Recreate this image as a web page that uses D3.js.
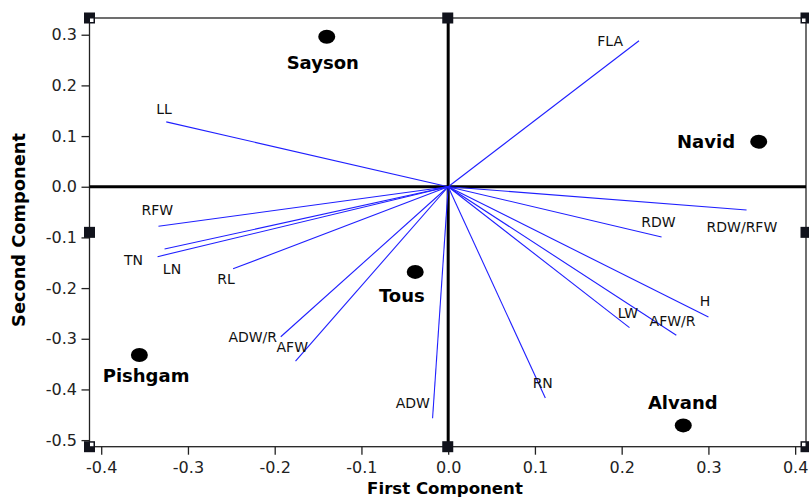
<!DOCTYPE html>
<html>
<head>
<meta charset="utf-8">
<script src="https://cdn.jsdelivr.net/npm/d3@7"></script>
<style>
    body { margin: 0; background: white; }
    text { font-family: "DejaVu Sans", Verdana, sans-serif; }
</style>
</head>
<body>
<svg id="biplot"></svg>
<script>
// Genotype scores on the first two components
var genotypes = ["Sayson", "Navid", "Tous", "Pishgam", "Alvand"]
var genoPC1 = [-0.140, 0.358, -0.038, -0.356, 0.271]
var genoPC2 = [0.296, 0.089, -0.168, -0.332, -0.471]

// Trait loadings (vectors from the origin)
var traits = ["FLA", "LL", "RFW", "LN", "TN", "RL", "ADW/R", "AFW", "ADW", "RN", "LW", "AFW/R", "H", "RDW", "RDW/RFW"]
var traitPC1 = [0.220, -0.325, -0.334, -0.327, -0.335, -0.248, -0.193, -0.176, -0.018, 0.112, 0.209, 0.263, 0.300, 0.246, 0.344]
var traitPC2 = [0.288, 0.128, -0.078, -0.123, -0.138, -0.162, -0.296, -0.344, -0.457, -0.417, -0.278, -0.293, -0.257, -0.099, -0.046]

// Tick values
var xTicks = [-0.4, -0.3, -0.2, -0.1, 0.0, 0.1, 0.2, 0.3, 0.4]
var yTicks = [-0.5, -0.4, -0.3, -0.2, -0.1, 0.0, 0.1, 0.2, 0.3]

var dimensions = {
    width: 809,
    height: 499,
    frame: { left: 89.5, right: 806, top: 18, bottom: 446.7 }
}

// label placement relative to the point: [dx, dy, anchor]
var traitLabelPos = {
    "FLA": [-16, 0, "end"],
    "LL": [-10, -13.4, "start"],
    "RFW": [-17, -16, "start"],
    "LN": [-1.7, 19.7, "start"],
    "TN": [-14.6, 3.3, "end"],
    "RL": [-15.7, 10, "start"],
    "ADW/R": [-3.7, 0, "end"],
    "AFW": [-19, -14.3, "start"],
    "ADW": [-2.7, -15, "end"],
    "RN": [-12.7, -15, "start"],
    "LW": [-11.7, -15, "start"],
    "AFW/R": [-26.7, -14.6, "start"],
    "H": [-8.7, -16.3, "start"],
    "RDW": [-20.3, -15, "start"],
    "RDW/RFW": [-40, 16.7, "start"]
}
var genoLabelPos = {
    "Sayson": [-4, 26, "middle"],
    "Navid": [-23.7, 0, "end"],
    "Tous": [-13.4, 23.3, "middle"],
    "Pishgam": [6.7, 21, "middle"],
    "Alvand": [-0.5, -23, "middle"]
}

var fr = dimensions.frame

var svg = d3.select("#biplot")
    .attr("width", dimensions.width)
    .attr("height", dimensions.height)

var xScale = d3.scaleLinear()
    .domain([-0.4135, 0.4125])
    .range([fr.left, fr.right])
var yScale = d3.scaleLinear()
    .domain([-0.513, 0.333])
    .range([fr.bottom, fr.top])

// Axes
var xAxis = svg.append("g")
    .attr("transform", `translate(0,${fr.bottom})`)
    .call(d3.axisBottom(xScale).tickValues(xTicks).tickFormat(d => d.toFixed(1))
        .tickSize(8).tickSizeOuter(0).tickPadding(7))
xAxis.select(".domain").remove()

var yAxis = svg.append("g")
    .attr("transform", `translate(${fr.left},0)`)
    .call(d3.axisLeft(yScale).tickValues(yTicks).tickFormat(d => d.toFixed(1))
        .tickSize(8).tickSizeOuter(0).tickPadding(4.5))
yAxis.select(".domain").remove()

svg.selectAll(".tick line").attr("stroke", "#222").attr("stroke-width", 1.3)
svg.selectAll(".tick text")
    .style("font-family", "DejaVu Sans")
    .style("font-size", "16px")
    .attr("fill", "#222")

// Frame
svg.append("rect")
    .attr("x", fr.left)
    .attr("y", fr.top)
    .attr("width", fr.right - fr.left)
    .attr("height", fr.bottom - fr.top)
    .attr("fill", "none")
    .attr("stroke", "#222")
    .attr("stroke-width", 1.3)

// Zero lines
svg.append("line")
    .attr("x1", fr.left).attr("x2", fr.right)
    .attr("y1", yScale(0)).attr("y2", yScale(0))
    .attr("stroke", "black")
    .attr("stroke-width", 3)
svg.append("line")
    .attr("x1", xScale(0)).attr("x2", xScale(0))
    .attr("y1", fr.top).attr("y2", fr.bottom)
    .attr("stroke", "black")
    .attr("stroke-width", 3)

// Trait vectors
var traitData = traits.map((t, i) => ({ name: t, x: traitPC1[i], y: traitPC2[i] }))

svg.selectAll(".vector")
    .data(traitData)
    .enter()
    .append("line")
    .attr("class", "vector")
    .attr("x1", xScale(0))
    .attr("y1", yScale(0))
    .attr("x2", d => xScale(d.x))
    .attr("y2", d => yScale(d.y))
    .attr("stroke", "#1f1fff")
    .attr("stroke-width", 1.1)

svg.selectAll(".traitLabel")
    .data(traitData)
    .enter()
    .append("text")
    .attr("class", "traitLabel")
    .attr("x", d => xScale(d.x) + traitLabelPos[d.name][0])
    .attr("y", d => yScale(d.y) + traitLabelPos[d.name][1])
    .attr("dy", "0.36em")
    .style("text-anchor", d => traitLabelPos[d.name][2])
    .style("font-size", "14px")
    .attr("fill", "#111")
    .text(d => d.name)

// Genotype points
var genoData = genotypes.map((g, i) => ({ name: g, x: genoPC1[i], y: genoPC2[i] }))

svg.selectAll(".geno")
    .data(genoData)
    .enter()
    .append("ellipse")
    .attr("class", "geno")
    .attr("cx", d => xScale(d.x))
    .attr("cy", d => yScale(d.y))
    .attr("rx", 8.5)
    .attr("ry", 7)
    .attr("fill", "black")

svg.selectAll(".genoLabel")
    .data(genoData)
    .enter()
    .append("text")
    .attr("class", "genoLabel")
    .attr("x", d => xScale(d.x) + genoLabelPos[d.name][0])
    .attr("y", d => yScale(d.y) + genoLabelPos[d.name][1])
    .attr("dy", "0.36em")
    .style("text-anchor", d => genoLabelPos[d.name][2])
    .style("font-size", "18px")
    .style("font-weight", "bold")
    .attr("fill", "black")
    .text(d => d.name)

// Selection handles on the frame
var midX = (fr.left + fr.right) / 2
var midY = (fr.top + fr.bottom) / 2
var handles = [
    [fr.left, fr.top, 1, 1], [midX, fr.top, 0, 0], [fr.right, fr.top, -1, 1],
    [fr.left, midY, 0, 0], [fr.right, midY, 0, 0],
    [fr.left, fr.bottom, 1, -1], [midX, fr.bottom, 0, 0], [fr.right, fr.bottom, -1, -1]
]
handles.forEach(h => {
    svg.append("rect")
        .attr("x", h[0] - 5.5).attr("y", h[1] - 5.5)
        .attr("width", 11).attr("height", 11)
        .attr("fill", "#11131c")
    // small white notch on the corners
    if (h[2] != 0) {
        svg.append("rect")
            .attr("x", h[2] > 0 ? h[0] + 0.5 : h[0] - 4)
            .attr("y", h[3] > 0 ? h[1] + 0.5 : h[1] - 4)
            .attr("width", 3.5).attr("height", 3.5)
            .attr("fill", "white")
    }
})

// Axis titles
svg.append("text")
    .attr("x", 445)
    .attr("y", 494)
    .style("text-anchor", "middle")
    .style("font-size", "16.6px")
    .style("font-weight", "bold")
    .text("First Component")

svg.append("text")
    .attr("transform", "translate(25,230) rotate(-90)")
    .style("text-anchor", "middle")
    .style("font-size", "17.8px")
    .style("font-weight", "bold")
    .text("Second Component")
</script>
</body>
</html>
